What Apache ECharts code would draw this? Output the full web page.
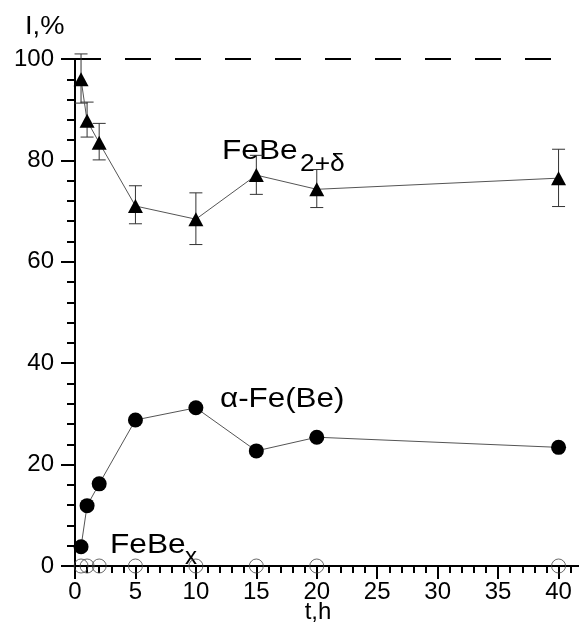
<!DOCTYPE html>
<html>
<head>
<meta charset="utf-8">
<script src="https://cdn.jsdelivr.net/npm/echarts@6/dist/echarts.min.js"></script>
<style>
html,body{margin:0;padding:0;background:#fff;}
#c{width:579px;height:644px;}
</style>
</head>
<body>
<div id="c"></div>
<script>
// ---- data ----
var tHours = [0.5, 1, 2, 5, 10, 15, 20, 40];
var feBe2Val = [96.0, 87.8, 83.5, 71.0, 68.4, 77.1, 74.3, 76.5];
var feBe2Lo  = [91.3, 84.6, 80.1, 67.5, 63.4, 73.3, 70.7, 70.9];
var feBe2Hi  = [101.0, 91.5, 87.3, 75.0, 73.6, 81.0, 78.2, 82.2];
var alphaFeBe = [3.8, 11.9, 16.2, 28.8, 31.2, 22.7, 25.4, 23.4];
var feBeX = [0, 0, 0, 0, 0, 0, 0, 0];
var refLevel = 100;
var yTicks = [0, 20, 40, 60, 80, 100];
var xTicks = [0, 5, 10, 15, 20, 25, 30, 35, 40];

function pairs(xs, ys){ return xs.map(function(x,i){ return [x, ys[i]]; }); }

var FONT = '"Liberation Sans", Arial, sans-serif';
var chart = echarts.init(document.getElementById('c'), null, {renderer:'canvas'});

function txt(x, y, s, size, sx, align){
  return { type: 'text', x: x, y: y, scaleX: sx || 1, silent: true,
    style: { text: s, fontSize: size, fontFamily: FONT, fill: '#000',
      align: align || 'left', verticalAlign: 'top' } };
}

var option = {
  animation: false,
  backgroundColor: '#ffffff',
  grid: { left: 75, right: -40, top: 59, bottom: 78, containLabel: false, outerBoundsMode: 'none' },
  xAxis: {
    type: 'value', min: 0, max: 45, interval: 5,
    axisLine: { show: true, onZero: false, lineStyle: { color: '#000', width: 2 } },
    axisTick: { show: true, length: 13, lineStyle: { color: '#000', width: 2 } },
    minorTick: { show: true, splitNumber: 5, length: 7, lineStyle: { color: '#000', width: 2 } },
    splitLine: { show: false },
    axisLabel: { color: '#000', fontSize: 24, fontFamily: FONT, margin: 14,
      formatter: function(v){ return xTicks.indexOf(v) >= 0 ? String(v) : ''; } }
  },
  yAxis: {
    type: 'value', min: 0, max: 100, interval: 20,
    axisLine: { show: true, lineStyle: { color: '#000', width: 2 } },
    axisTick: { show: true, length: 14, lineStyle: { color: '#000', width: 2 } },
    minorTick: { show: true, splitNumber: 5, length: 8, lineStyle: { color: '#000', width: 2 } },
    splitLine: { show: false },
    axisLabel: { color: '#000', fontSize: 24, fontFamily: FONT, margin: 21,
      formatter: function(v){ return yTicks.indexOf(v) >= 0 ? String(v) : ''; } }
  },
  series: [
    {
      type: 'line', data: [[0, refLevel], [40, refLevel]], symbol: 'none', silent: true,
      lineStyle: { color: '#000', width: 2, type: [26, 24] }, z: 1
    },
    {
      type: 'custom', z: 2, silent: true,
      data: tHours.map(function(t,i){ return [t, feBe2Lo[i], feBe2Hi[i]]; }),
      renderItem: function(params, api){
        var lo = api.coord([api.value(0), api.value(1)]);
        var hi = api.coord([api.value(0), api.value(2)]);
        var w = 6.5;
        var st = { stroke: '#333', lineWidth: 1 };
        return { type: 'group', children: [
          { type: 'line', shape: { x1: lo[0], y1: lo[1], x2: hi[0], y2: hi[1] }, style: st },
          { type: 'line', shape: { x1: lo[0]-w, y1: lo[1], x2: lo[0]+w, y2: lo[1] }, style: st },
          { type: 'line', shape: { x1: hi[0]-w, y1: hi[1], x2: hi[0]+w, y2: hi[1] }, style: st }
        ]};
      },
      clip: false
    },
    {
      name: 'FeBe2+δ', type: 'line', data: pairs(tHours, feBe2Val), z: 3, clip: false,
      symbol: 'triangle', symbolSize: [15, 14],
      itemStyle: { color: '#000' }, lineStyle: { color: '#555', width: 1 }
    },
    {
      name: 'α-Fe(Be)', type: 'line', data: pairs(tHours, alphaFeBe), z: 3, clip: false,
      symbol: 'circle', symbolSize: 15,
      itemStyle: { color: '#000' }, lineStyle: { color: '#555', width: 1 }
    },
    {
      name: 'FeBex', type: 'scatter', data: pairs(tHours, feBeX), z: 4, clip: false,
      symbol: 'circle', symbolSize: 14,
      itemStyle: { color: 'rgba(0,0,0,0)', borderColor: '#444', borderWidth: 1 }
    }
  ],
  graphic: [
    txt(25, 14, 'I,%', 26, 1.05),
    txt(318, 600, 't,h', 24, 1, 'center'),
    txt(222, 137.5, 'FeBe', 28, 1.13),
    txt(300, 152, '2+δ', 24, 1.1),
    txt(220, 385.5, 'α-Fe(Be)', 28, 1.12),
    txt(110, 531.5, 'FeBe', 28, 1.13),
    txt(185, 545, 'x', 24, 1)
  ]
};
chart.setOption(option);
</script>
</body>
</html>
